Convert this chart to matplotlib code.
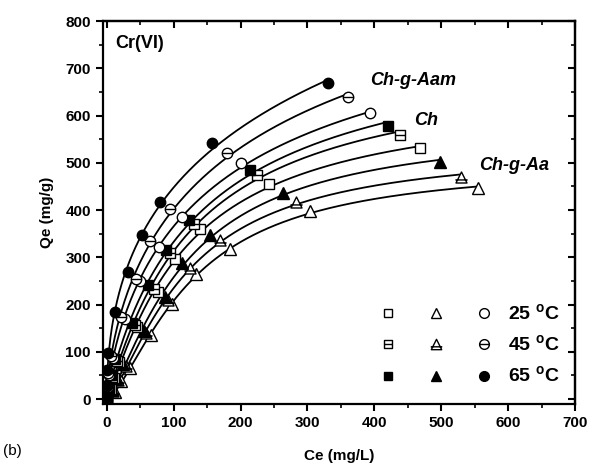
import numpy as np
import matplotlib
matplotlib.use("Agg")
import matplotlib.pyplot as plt
from matplotlib.lines import Line2D
from matplotlib.path import Path
from matplotlib.legend_handler import HandlerTuple

# Ce (mg/L) / Qe (mg/g)
ce_aam_65 = [0, 0.5, 1, 2, 13, 32, 52, 80, 157, 330]
qe_aam_65 = [5, 30, 62, 97, 185, 269, 347, 417, 541, 669]
ce_aam_45 = [0, 1, 2, 6, 22, 44, 65, 95, 180, 360]
qe_aam_45 = [4, 28, 56, 92, 174, 255, 335, 403, 520, 640]
ce_aam_25 = [0, 2, 4, 9, 27, 50, 78, 113, 200, 394]
qe_aam_25 = [3, 26, 52, 88, 170, 250, 322, 386, 500, 605]

ce_ch_65 = [0, 3, 6, 13, 37, 62, 89, 123, 214, 420]
qe_ch_65 = [3, 25, 50, 84, 160, 241, 315, 378, 485, 578]
ce_ch_45 = [0, 4, 8, 16, 42, 70, 94, 130, 225, 439]
qe_ch_45 = [2, 23, 47, 81, 157, 234, 309, 370, 474, 559]
ce_ch_25 = [0, 6, 11, 19, 45, 77, 102, 139, 243, 469]
qe_ch_25 = [0, 22, 45, 78, 153, 227, 296, 361, 456, 531]

ce_aa_65 = [1, 8, 14, 24, 55, 87, 112, 154, 264, 498]
qe_aa_65 = [2, 20, 42, 74, 144, 216, 287, 347, 437, 502]
ce_aa_45 = [1, 10, 17, 28, 58, 92, 124, 169, 283, 530]
qe_aa_45 = [2, 18, 40, 70, 140, 210, 277, 336, 418, 470]
ce_aa_25 = [1, 13, 22, 34, 66, 97, 134, 184, 304, 555]
qe_aa_25 = [1, 16, 38, 65, 135, 202, 264, 317, 398, 447]

temps = ["25 $^\\mathregular{o}$C", "45 $^\\mathregular{o}$C", "65 $^\\mathregular{o}$C"]


def sips_fit(ce, qe):
    # grid search on K, n ; qm by least squares
    ce = np.asarray(ce, float)
    qe = np.asarray(qe, float)
    best = None
    for n in np.linspace(0.5, 1.5, 41):
        for K in np.logspace(-4, 0, 161):
            f = (K * ce) ** n / (1 + (K * ce) ** n)
            qm = (f @ qe) / (f @ f)
            err = ((qm * f - qe) ** 2).sum()
            if best is None or err < best[0]:
                best = (err, qm, K, n)
    _, qm, K, n = best
    x = np.linspace(0, ce.max(), 300)
    return x, qm * (K * x) ** n / (1 + (K * x) ** n)


# markers with a horizontal bar (45 C)
def barred(shape):
    if shape == "o":
        base = Path.unit_circle()
        bar = Path([[-1, 0], [1, 0]], [Path.MOVETO, Path.LINETO])
    elif shape == "s":
        base = Path([[-1, -1], [1, -1], [1, 1], [-1, 1], [-1, -1]],
                    [Path.MOVETO, Path.LINETO, Path.LINETO, Path.LINETO, Path.CLOSEPOLY])
        bar = Path([[-1, 0], [1, 0]], [Path.MOVETO, Path.LINETO])
    else:
        base = Path([[0, 0.9], [-0.9, -0.9], [0.9, -0.9], [0, 0.9]],
                    [Path.MOVETO, Path.LINETO, Path.LINETO, Path.CLOSEPOLY])
        bar = Path([[-1, -0.4], [1, -0.4]], [Path.MOVETO, Path.LINETO])
    return Path.make_compound_path(base, bar)


plt.rcParams["font.family"] = ["Liberation Sans", "DejaVu Sans"]
plt.rcParams["font.weight"] = "bold"

fig = plt.figure(figsize=(5.94, 4.69), dpi=100)
ax = fig.add_axes([0.173, 0.139, 0.795, 0.816])

series = [
    (ce_aa_25, qe_aa_25, "^", "open", 8),
    (ce_aa_45, qe_aa_45, "^", "line", 8.8),
    (ce_aa_65, qe_aa_65, "^", "full", 8),
    (ce_ch_25, qe_ch_25, "s", "open", 6.5),
    (ce_ch_45, qe_ch_45, "s", "line", 6.5),
    (ce_ch_65, qe_ch_65, "s", "full", 6.5),
    (ce_aam_25, qe_aam_25, "o", "open", 7.5),
    (ce_aam_45, qe_aam_45, "o", "line", 7.5),
    (ce_aam_65, qe_aam_65, "o", "full", 7.5),
]

for ce, qe, mk, style, ms in series:
    xf, yf = sips_fit(ce, qe)
    ax.plot(xf, yf, color="black", lw=1.3, zorder=2)
    fc = "black" if style == "full" else "white"
    m = barred(mk) if style == "line" else mk
    ax.plot(ce, qe, ls="none", marker=m, ms=ms, mfc=fc, mec="black", mew=1.0, zorder=3)

# legend: one row per temperature, square / triangle / circle
rows = []
for style in ["open", "line", "full"]:
    fc = "black" if style == "full" else "white"
    hs = []
    for mk, ms in [("s", 6), ("^", 7.5), ("o", 7)]:
        m = barred(mk) if style == "line" else mk
        if style == "line" and mk == "^":
            ms = 8.3
        hs.append(Line2D([], [], ls="none", marker=m, ms=ms, mfc=fc, mec="black", mew=1.0))
    rows.append(tuple(hs))

leg = ax.legend(rows, temps, handler_map={tuple: HandlerTuple(ndivide=3, pad=1.0)},
                loc="lower right", frameon=False, handlelength=6.4, handletextpad=0.5,
                labelspacing=0.55, fontsize=14, bbox_to_anchor=(1.005, 0.0))
for t in leg.get_texts():
    t.set_fontweight("bold")

ax.text(12, 752, "Cr(VI)", fontsize=13, fontweight="bold", va="center")
ax.text(393, 674, "Ch-g-Aam", fontsize=13, fontweight="bold", style="italic", va="center")
ax.text(460, 590, "Ch", fontsize=13, fontweight="bold", style="italic", va="center")
ax.text(557, 494, "Ch-g-Aa", fontsize=13, fontweight="bold", style="italic", va="center")

ax.set_xlim(-6, 700)
ax.set_ylim(-10, 800)
ax.set_xticks(np.arange(0, 701, 100))
ax.set_yticks(np.arange(0, 801, 100))
ax.set_xticks(np.arange(0, 701, 50), minor=True)
ax.set_yticks(np.arange(0, 801, 50), minor=True)
ax.tick_params(which="major", direction="out", length=5, width=1.5, labelsize=11)
ax.tick_params(which="minor", direction="out", length=3, width=1.2)
for lab in ax.get_xticklabels() + ax.get_yticklabels():
    lab.set_fontweight("bold")
for s in ax.spines.values():
    s.set_linewidth(1.6)

top = ax.secondary_xaxis("top")
top.set_xticks(np.arange(0, 701, 100))
top.set_xticks(np.arange(0, 701, 50), minor=True)
top.tick_params(which="major", direction="in", length=5, width=1.5, labeltop=False)
top.tick_params(which="minor", direction="in", length=3, width=1.2)
right = ax.secondary_yaxis("right")
right.set_yticks(np.arange(0, 801, 100))
right.set_yticks(np.arange(0, 801, 50), minor=True)
right.tick_params(which="major", direction="in", length=5, width=1.5, labelright=False)
right.tick_params(which="minor", direction="in", length=3, width=1.2)
top.spines["top"].set_linewidth(1.6)
right.spines["right"].set_linewidth(1.6)

ax.set_xlabel("Ce (mg/L)", fontsize=11, fontweight="bold", labelpad=14)
ax.set_ylabel("Qe (mg/g)", fontsize=11, fontweight="bold", labelpad=8)
fig.text(0.005, 0.03, "(b)", fontsize=11, fontweight="normal")

fig.savefig("out.png", dpi=100)
